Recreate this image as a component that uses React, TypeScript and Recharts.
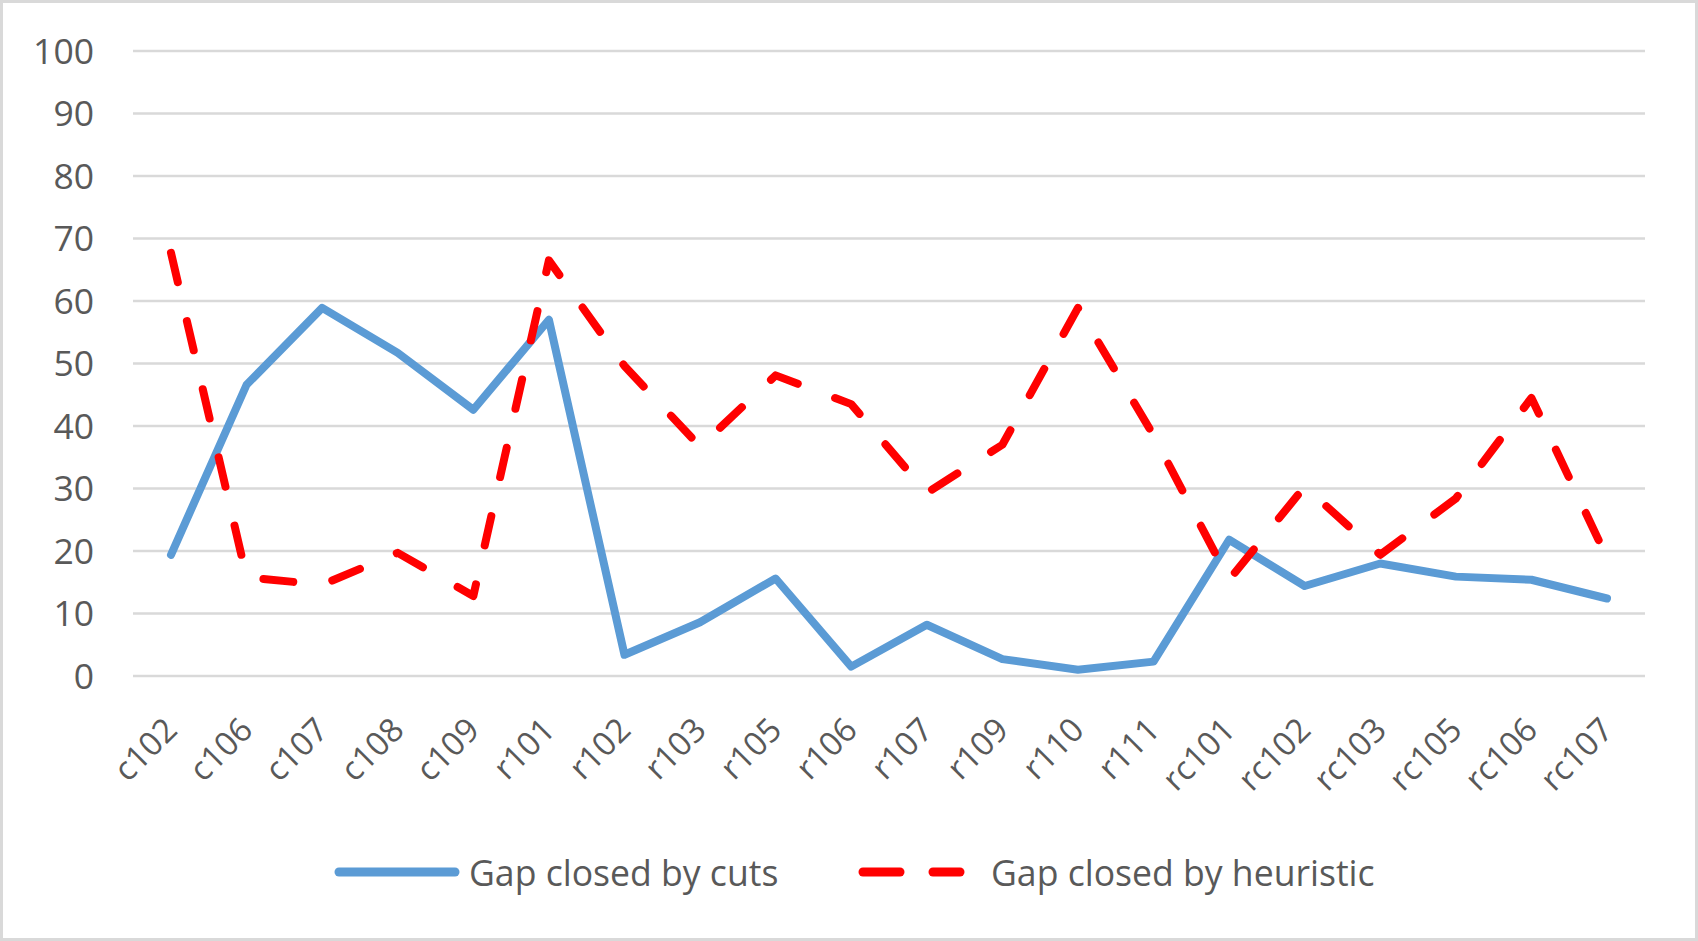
import React from 'react';
import { LineChart, Line, XAxis, YAxis, CartesianGrid } from 'recharts';

const categories = [
  'c102', 'c106', 'c107', 'c108', 'c109', 'r101', 'r102', 'r103', 'r105', 'r106',
  'r107', 'r109', 'r110', 'r111', 'rc101', 'rc102', 'rc103', 'rc105', 'rc106', 'rc107',
];
const gapByCuts = [19.4, 46.6, 58.9, 51.7, 42.6, 57.0, 3.4, 8.6, 15.6, 1.5, 8.2, 2.7, 1.0, 2.3, 21.8, 14.4, 18.0, 15.9, 15.4, 12.4];
const gapByHeuristic = [67.7, 15.8, 14.6, 19.7, 12.8, 66.5, 49.6, 36.7, 48.1, 43.5, 29.3, 37.0, 58.9, 38.5, 15.4, 30.3, 19.4, 28.4, 44.5, 18.9];
const yTicks = [0, 10, 20, 30, 40, 50, 60, 70, 80, 90, 100];

const data = categories.map((name, i) => ({
  name,
  cuts: gapByCuts[i],
  heuristic: gapByHeuristic[i],
}));

const FONT = '"Open Sans", Lato, sans-serif';
const TEXT = '#595959';
const BLUE = '#5B9BD5';
const RED = '#FF0000';

const XTick = ({ x, y, payload }: any) => {
  const tx = x + 8;
  const ty = y + 56;
  return (
    <text
      x={tx}
      y={ty}
      transform={`rotate(-45 ${tx} ${ty})`}
      textAnchor="end"
      fill={TEXT}
      fontSize={33}
      fontFamily={FONT}
    >
      {payload.value}
    </text>
  );
};

export default function App() {
  return (
    <div style={{ position: 'absolute', left: 0, top: 0, width: 1698, height: 941, background: '#fff' }}>
      <LineChart
        width={1698}
        height={941}
        data={data}
        margin={{ top: 51, right: 53, left: 0, bottom: 0 }}
      >
        <CartesianGrid stroke="#d9d9d9" strokeWidth={2.5} vertical={false} />
        <XAxis
          dataKey="name"
          height={265}
          axisLine={false}
          tickLine={false}
          tickSize={0}
          tickMargin={0}
          interval={0}
          padding={{ left: 38, right: 38 }}
          tick={<XTick />}
        />
        <YAxis
          width={133}
          domain={[0, 100]}
          ticks={yTicks}
          interval={0}
          axisLine={false}
          tickLine={false}
          tickSize={0}
          tickMargin={39}
          tick={{ fill: TEXT, fontSize: 35.5, fontFamily: FONT }}
        />
        <Line
          dataKey="cuts"
          stroke={BLUE}
          strokeWidth={8}
          strokeLinejoin="round"
          strokeLinecap="round"
          dot={false}
          activeDot={false}
          isAnimationActive={false}
        />
        <Line
          dataKey="heuristic"
          stroke={RED}
          strokeWidth={8}
          strokeDasharray="30 40"
          strokeLinejoin="round"
          strokeLinecap="round"
          dot={false}
          activeDot={false}
          isAnimationActive={false}
        />
      </LineChart>

      {/* legend */}
      <div style={{ position: 'absolute', left: 0, top: 850, width: 1698, height: 44, fontFamily: FONT, fontSize: 35.6, color: TEXT }}>
        <svg width={130} height={44} style={{ position: 'absolute', left: 333, top: 0 }}>
          <line x1={6} y1={22} x2={122} y2={22} stroke={BLUE} strokeWidth={9} strokeLinecap="round" />
        </svg>
        <span style={{ position: 'absolute', left: 469, top: 0, lineHeight: '44px', whiteSpace: 'nowrap' }}>
          Gap closed by cuts
        </span>
        <svg width={120} height={44} style={{ position: 'absolute', left: 853, top: 0 }}>
          <line x1={10} y1={22} x2={47} y2={22} stroke={RED} strokeWidth={9} strokeLinecap="round" />
          <line x1={80} y1={22} x2={107} y2={22} stroke={RED} strokeWidth={9} strokeLinecap="round" />
        </svg>
        <span style={{ position: 'absolute', left: 991, top: 0, lineHeight: '44px', whiteSpace: 'nowrap' }}>
          Gap closed by heuristic
        </span>
      </div>

      {/* chart frame */}
      <div
        style={{
          position: 'absolute', left: 0, top: 0, width: 1698, height: 941,
          boxSizing: 'border-box', border: '3px solid #d9d9d9', pointerEvents: 'none',
        }}
      />
    </div>
  );
}
